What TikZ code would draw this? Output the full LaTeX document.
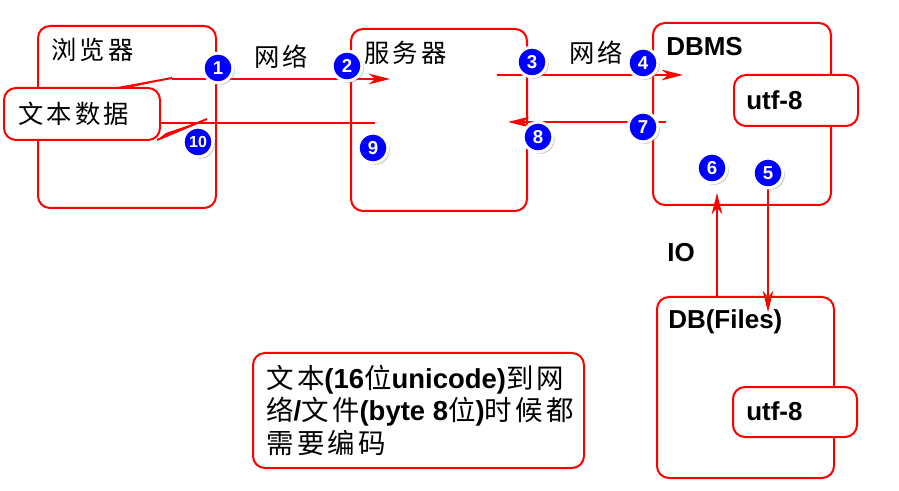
\documentclass[tikz,border=0pt]{standalone}
\usepackage{fontspec}
\setmainfont{Liberation Sans}
\newfontfamily\cjk[LetterSpace=12]{Noto Sans CJK SC}
\newcommand\zhtxt[1]{{\mdseries\cjk #1}}
\usetikzlibrary{arrows.meta,shadows}
\begin{document}
\begin{tikzpicture}[x=0.75pt,y=-0.75pt,
 box/.style={draw=red, line width=1.5pt, rounded corners=9pt, fill=white, inner sep=0},
 num/.style={circle, fill=blue, draw=white, line width=2.25pt, minimum size=22.25pt, inner sep=0, text=white,
   font=\fontsize{14pt}{14pt}\selectfont\bfseries,
   drop shadow={opacity=0.4, shadow xshift=1.5pt, shadow yshift=-1.5pt}},
 conn/.style={draw=red, line width=1.5pt, -{Stealth[length=16pt,width=8pt,inset=5pt]}},
 plain/.style={draw=red, line width=1.5pt},
 zh/.style={font=\fontsize{19pt}{24pt}\selectfont\cjk, inner sep=0, anchor=west},
 lat/.style={font=\fontsize{19.5pt}{24pt}\selectfont\bfseries, inner sep=0, anchor=west}]
\useasboundingbox (0,0) rectangle (899,491);

% boxes
\node[box, minimum width=133.5pt, minimum height=136.5pt] (browser) at (127,117) {};
\node[box, minimum width=132pt, minimum height=136.5pt] (server) at (439,120) {};
\node[box, minimum width=133.5pt, minimum height=136.5pt] (dbms) at (742,114) {};
\node[box, minimum width=93pt, minimum height=38.25pt] (utfa) at (796,100.5) {};
\node[box, minimum width=132.75pt, minimum height=135.75pt] (dbf) at (745.5,387.5) {};
\node[box, minimum width=93pt, minimum height=37.5pt] (utfb) at (795,412) {};
\node[box, minimum width=117pt, minimum height=39pt] (callout) at (82,114) {};
\node[box, minimum width=248.25pt, minimum height=86.25pt] (note) at (418.5,410.5) {};

% callout pointers
\coordinate (p1a) at (118,88);
\coordinate (p1t) at (172,78);
\coordinate (p1b) at (128,88);
\coordinate (p2a) at (157,140);
\coordinate (p2t) at (207,119);
\coordinate (p2b) at (166,133);
\fill[red] (p1a) -- (p1t) -- (p1b) -- cycle;
\draw[plain] (p1a) -- (p1t);
\fill[red] (p2a) -- (p2t) -- (p2b) -- cycle;
\draw[plain] (p2a) -- (p2t);

% labels
\node[zh] (lbrowser) at (51,50) {浏览器};
\node[zh] (lserver) at (364,53) {服务器};
\node[lat] (ldbms) at (666,47) {DBMS};
\node[lat] (lutfa) at (746,100) {utf-8};
\node[lat] (ldbf) at (668,322) {DB(Files)};
\node[lat] (lutfb) at (746,411) {utf-8};
\node[lat] (lio) at (667,253) {IO};
\node[zh] (ldata) at (18,114) {文本数据};
\node[zh] (lnet1) at (254,57) {网络};
\node[zh] (lnet2) at (569,53) {网络};
\node[anchor=west, inner sep=0, align=left, font=\fontsize{20.6pt}{24.4pt}\selectfont\bfseries] (lnote) at (266,410)
 {\zhtxt{文本}(16\zhtxt{位}unicode)\zhtxt{到网}\\
  \zhtxt{络}/\zhtxt{文件}(byte 8\zhtxt{位})\zhtxt{时候都}\\
  \zhtxt{需要编码}};

% connectors
\coordinate (a1s) at (172,79);
\coordinate (a1e) at (390,79);
\coordinate (a3s) at (497,75);
\coordinate (a3e) at (683,75);
\coordinate (a7s) at (666,122);
\coordinate (a7e) at (508,122);
\coordinate (a9s) at (375,123);
\coordinate (a9e) at (160,123);
\coordinate (a6s) at (717,297);
\coordinate (a6e) at (717,193);
\coordinate (a5s) at (768,186);
\coordinate (a5e) at (768,312);
\draw[plain] (p1t) -- (a1s);
\draw[conn] (a1s) -- (a1e);
\draw[conn] (a3s) -- (a3e);
\draw[conn] (a7s) -- (a7e);
\draw[plain] (a9s) -- (a9e);
\draw[conn] (a6s) -- (a6e);
\draw[conn] (a5s) -- (a5e);

% numbered markers
\node[num] (n1) at (218,68) {1};
\node[num] (n2) at (347,66) {2};
\node[num] (n3) at (532,62) {3};
\node[num] (n4) at (643,63) {4};
\node[num] (n5) at (768,173) {5};
\node[num] (n6) at (712,168) {6};
\node[num] (n7) at (643,127) {7};
\node[num] (n8) at (538,137) {8};
\node[num] (n9) at (373,148) {9};
\node[num, font=\fontsize{12pt}{12pt}\selectfont\bfseries] (n10) at (198,142) {10};
\end{tikzpicture}
\end{document}
